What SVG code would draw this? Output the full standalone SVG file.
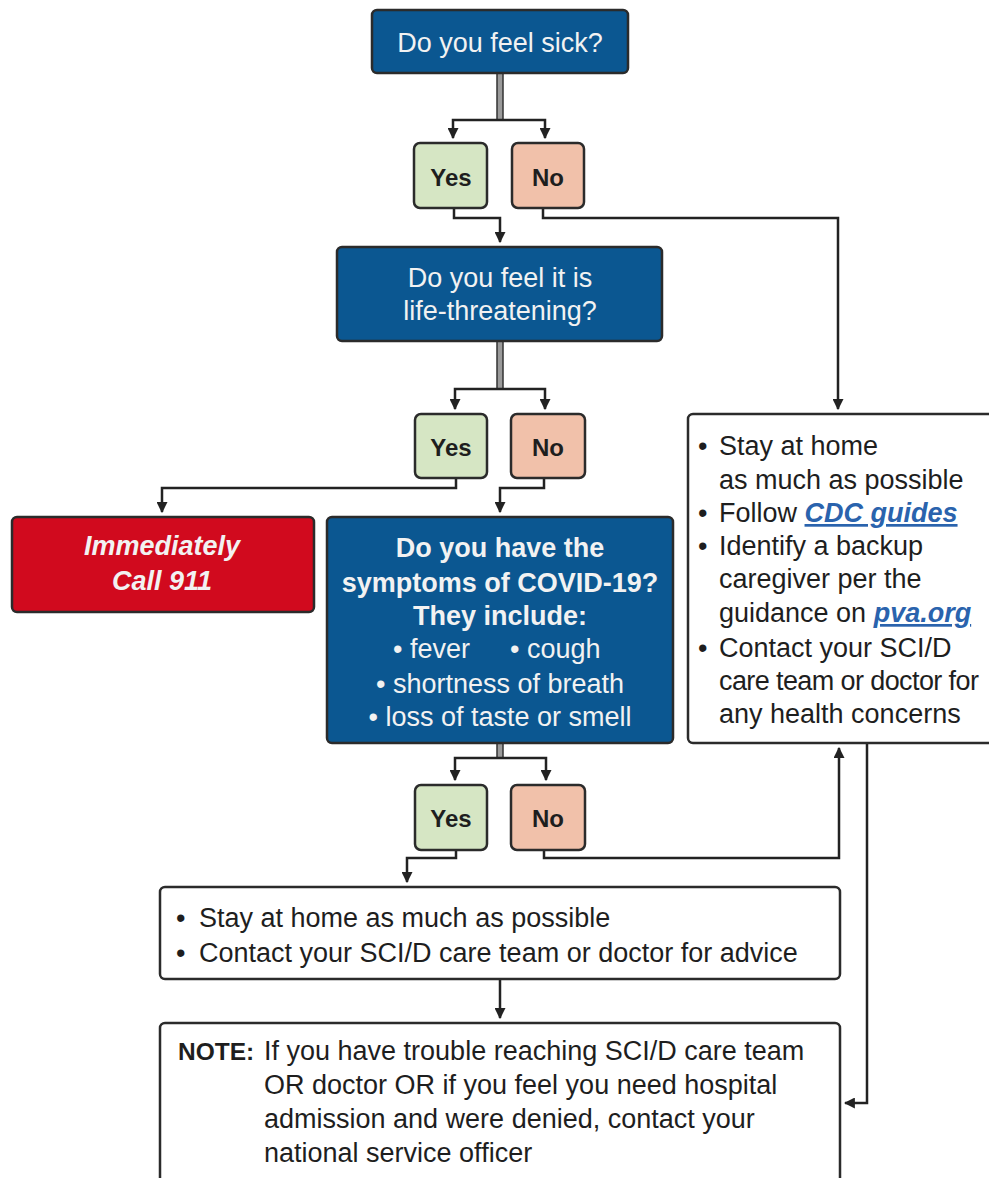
<svg xmlns="http://www.w3.org/2000/svg" width="989" height="1178" viewBox="0 0 989 1178">
<style>
.q{fill:#0b5791;stroke:#2b2b2b;stroke-width:2.5}
.yes{fill:#d6e6c4;stroke:#2b2b2b;stroke-width:2.5}
.no{fill:#f1c1aa;stroke:#2b2b2b;stroke-width:2.5}
.red{fill:#d10a1e;stroke:#2b2b2b;stroke-width:2.5}
.w{fill:#ffffff;stroke:#2b2b2b;stroke-width:2.5}
.t{font-family:"Liberation Sans",Arial,sans-serif;font-size:27px}
.wt{fill:#f2f2f2}
.bt{fill:#1e1e1e}
.b{font-weight:bold}
.yn{font-family:"Liberation Sans",Arial,sans-serif;font-size:24px;font-weight:bold;fill:#1e1e1e;text-anchor:middle}
.c{text-anchor:middle}
.lnk{fill:#2a63ad;font-style:italic;font-weight:bold;text-decoration:underline}
.conn{fill:none;stroke:#222;stroke-width:2.5;marker-end:url(#ah)}
.stem{fill:#9a9a9a;stroke:#333;stroke-width:1.5}
</style>
<defs>
<marker id="ah" viewBox="0 0 10 10" refX="9" refY="5" markerWidth="11" markerHeight="11" markerUnits="userSpaceOnUse" orient="auto">
<path d="M0,0 L10,5 L0,10 z" fill="#222"/>
</marker>
</defs>
<rect width="989" height="1178" fill="#ffffff"/>

<g id="connectors">
<rect class="stem" x="497" y="73" width="6" height="47"/>
<path class="conn" d="M500,120 H453 V138"/>
<path class="conn" d="M500,120 H545 V138"/>
<path class="conn" d="M454,208 V218 H500 V242"/>
<path class="conn" d="M543,208 V218 H838 V409"/>
<rect class="stem" x="497" y="341" width="6" height="48"/>
<path class="conn" d="M500,389 H455 V409"/>
<path class="conn" d="M500,389 H545 V409"/>
<path class="conn" d="M456,478 V488 H162 V512"/>
<path class="conn" d="M544,478 V488 H500 V512"/>
<rect class="stem" x="497" y="743" width="6" height="15"/>
<path class="conn" d="M500,758 H455 V780"/>
<path class="conn" d="M500,758 H546 V780"/>
<path class="conn" d="M456,850 V858 H407 V882"/>
<path class="conn" d="M544,850 V858 H839 V748"/>
<path class="conn" d="M500,979 V1018"/>
<path class="conn" d="M867,743 V1103 H845"/>
</g>

<g id="q1">
<rect class="q" x="372" y="10" width="256" height="63" rx="5"/>
<text class="t wt c" x="500" y="52">Do you feel sick?</text>
</g>
<g id="yes1">
<rect class="yes" x="414" y="143" width="73" height="65" rx="6"/>
<text class="yn" x="451" y="186">Yes</text>
</g>
<g id="no1">
<rect class="no" x="512" y="143" width="72" height="65" rx="6"/>
<text class="yn" x="548" y="186">No</text>
</g>

<g id="q2">
<rect class="q" x="337" y="247" width="325" height="94" rx="5"/>
<text class="t wt c" x="500" y="287">Do you feel it is</text>
<text class="t wt c" x="500" y="320">life-threatening?</text>
</g>
<g id="yes2">
<rect class="yes" x="415" y="414" width="72" height="64" rx="6"/>
<text class="yn" x="451" y="456">Yes</text>
</g>
<g id="no2">
<rect class="no" x="511" y="414" width="74" height="64" rx="6"/>
<text class="yn" x="548" y="456">No</text>
</g>

<g id="call911">
<rect class="red" x="12" y="517" width="302" height="95" rx="5"/>
<text class="t wt c b" x="162" y="555" font-style="italic" font-size="26">Immediately</text>
<text class="t wt c b" x="162" y="590" font-style="italic" font-size="26">Call 911</text>
</g>

<g id="q3">
<rect class="q" x="327" y="517" width="346" height="226" rx="5"/>
<text class="t wt c b" x="500" y="557" font-size="25">Do you have the</text>
<text class="t wt c b" x="500" y="592" font-size="25">symptoms of COVID-19?</text>
<text class="t wt c b" x="500" y="625" font-size="25">They include:</text>
<text class="t wt" x="393" y="658">• fever</text>
<text class="t wt" x="510" y="658">• cough</text>
<text class="t wt c" x="500" y="693">• shortness of breath</text>
<text class="t wt c" x="500" y="726">• loss of taste or smell</text>
</g>
<g id="yes3">
<rect class="yes" x="415" y="785" width="72" height="65" rx="6"/>
<text class="yn" x="451" y="827">Yes</text>
</g>
<g id="no3">
<rect class="no" x="511" y="785" width="74" height="65" rx="6"/>
<text class="yn" x="548" y="827">No</text>
</g>

<g id="home-advice">
<rect class="w" x="688" y="414" width="330" height="329" rx="5"/>
<text class="t bt" font-size="25.5"><tspan x="698" y="455">•</tspan><tspan x="719" y="455">Stay at home</tspan><tspan x="719" y="489">as much as possible</tspan><tspan x="698" y="522">•</tspan><tspan x="719" y="522">Follow </tspan><tspan class="lnk">CDC guides</tspan><tspan x="698" y="555">•</tspan><tspan x="719" y="555">Identify a backup</tspan><tspan x="719" y="588">caregiver per the</tspan><tspan x="719" y="622">guidance on </tspan><tspan class="lnk">pva.org</tspan><tspan x="698" y="657">•</tspan><tspan x="719" y="657">Contact your SCI/D</tspan><tspan x="719" y="690" letter-spacing="-0.6">care team or doctor for</tspan><tspan x="719" y="723">any health concerns</tspan></text>
</g>

<g id="stay-home">
<rect class="w" x="160" y="887" width="680" height="92" rx="5"/>
<text class="t bt"><tspan x="176" y="927">•</tspan><tspan x="199" y="927">Stay at home as much as possible</tspan><tspan x="176" y="962">•</tspan><tspan x="199" y="962">Contact your SCI/D care team or doctor for advice</tspan></text>
</g>

<g id="note">
<rect class="w" x="160" y="1023" width="680" height="200" rx="5"/>
<text class="t bt"><tspan x="178" y="1060" font-weight="bold" font-size="24.5">NOTE:</tspan><tspan x="264" y="1060">If you have trouble reaching SCI/D care team</tspan><tspan x="264" y="1094">OR doctor OR if you feel you need hospital</tspan><tspan x="264" y="1128">admission and were denied, contact your</tspan><tspan x="264" y="1162">national service officer</tspan></text>
</g>
</svg>
